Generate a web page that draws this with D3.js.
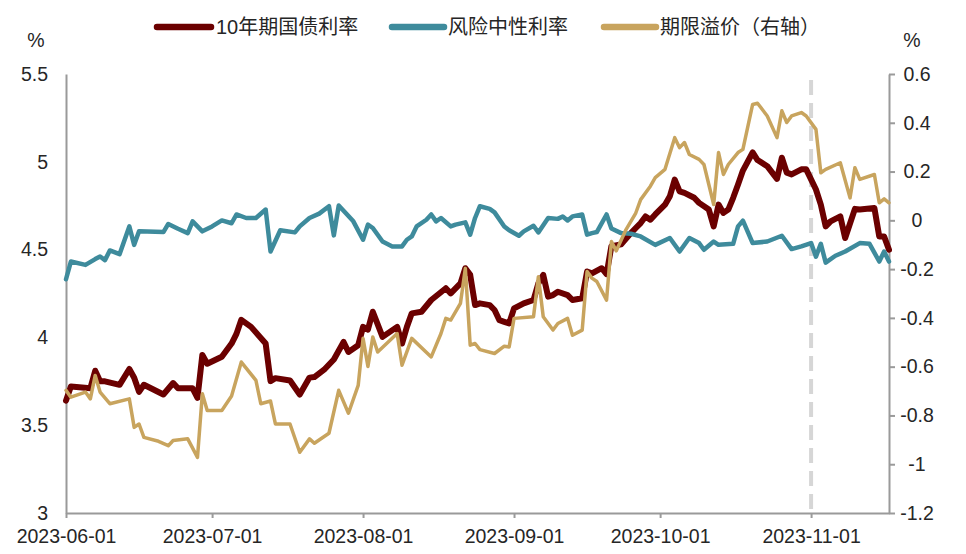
<!DOCTYPE html>
<html>
<head>
<meta charset="utf-8">
<script src="https://cdn.jsdelivr.net/npm/d3@7"></script>
<style>
  html, body { margin: 0; padding: 0; background: #fff; }
  svg { display: block; }
  text { font-family: "Liberation Sans", Arial, "Noto Sans CJK SC", sans-serif; fill: #262626; }
</style>
</head>
<body>
<svg id="chart" width="966" height="554"></svg>
<script>
// ---------- data ----------
const seriesNames = ["10年期国债利率", "风险中性利率", "期限溢价（右轴）"];
const xTickDates = ["2023-06-01", "2023-07-01", "2023-08-01", "2023-09-01", "2023-10-01", "2023-11-01"];
const leftTicks = [3, 3.5, 4, 4.5, 5, 5.5];
const rightTicks = [-1.2, -1, -0.8, -0.6, -0.4, -0.2, 0, 0.2, 0.4, 0.6];
const markerDate = "2023-11-01";

// 10年期国债利率 (left axis, %)
const yieldDates = ["06-01","06-02","06-06","06-07","06-08","06-09","06-12","06-14","06-15","06-16","06-17","06-21","06-23","06-24","06-27","06-28","06-29","06-30",
  "07-03","07-05","07-06","07-07","07-09","07-12","07-13","07-14","07-17","07-19","07-21","07-22","07-24","07-26","07-28","07-29","07-31",
  "08-01","08-02","08-03","08-05","08-08","08-09","08-10","08-11","08-13","08-15","08-18","08-19","08-21","08-22","08-23","08-24","08-25","08-27","08-28","08-29","08-30","08-31",
  "09-01","09-03","09-05","09-06","09-07","09-08","09-09","09-10","09-12","09-13","09-15","09-16","09-17","09-19","09-20","09-21","09-23","09-25","09-26","09-27","09-28","09-29","09-30",
  "10-02","10-03","10-04","10-05","10-06","10-08","10-09","10-11","10-12","10-13","10-14","10-15","10-16","10-17","10-18","10-20","10-21","10-23","10-25","10-26","10-27","10-28","10-30","10-31",
  "11-02","11-03","11-04","11-05","11-07","11-08","11-10","11-11","11-14","11-15","11-16","11-17"];
const yieldValues = [3.64,3.72,3.71,3.81,3.75,3.75,3.73,3.82,3.77,3.69,3.73,3.675,3.74,3.71,3.71,3.656,3.90,3.85,
  3.89,3.965,4.02,4.10,4.06,3.965,3.751,3.768,3.755,3.675,3.771,3.774,3.816,3.874,3.974,3.917,3.955,
  4.06,4.045,4.146,4.003,4.06,3.965,4.06,4.137,4.146,4.213,4.28,4.251,4.308,4.394,4.356,4.184,4.194,4.184,4.156,4.098,4.089,4.08,
  4.165,4.194,4.213,4.308,4.356,4.232,4.241,4.26,4.241,4.213,4.223,4.375,4.365,4.394,4.36,4.52,4.53,4.594,4.623,4.651,4.689,4.67,4.70,
  4.756,4.804,4.899,4.832,4.823,4.795,4.766,4.728,4.632,4.756,4.709,4.728,4.795,4.871,4.95,5.053,5.01,4.975,4.903,5.023,4.938,4.928,4.957,4.957,
  4.842,4.756,4.632,4.661,4.689,4.566,4.732,4.728,4.737,4.575,4.575,4.499];

// 风险中性利率 (left axis, %)
const neutralDates = ["06-01","06-02","06-05","06-07","06-08","06-09","06-10","06-12","06-14","06-15","06-16","06-21","06-22","06-24","06-26","06-27","06-29",
  "07-01","07-03","07-05","07-06","07-08","07-10","07-12","07-13","07-15","07-18","07-19","07-21","07-23","07-25","07-26","07-27","07-30",
  "08-01","08-02","08-03","08-05","08-07","08-09","08-10","08-11","08-12","08-14","08-15","08-16","08-17","08-19","08-20","08-22","08-23","08-24","08-25","08-27","08-28","08-30","08-31",
  "09-02","09-03","09-05","09-06","09-08","09-10","09-11","09-12","09-13","09-15","09-16","09-17","09-18","09-20","09-21","09-23","09-25","09-27","09-30",
  "10-03","10-05","10-07","10-09","10-10","10-12","10-13","10-16","10-17","10-18","10-20","10-23","10-26","10-28","10-30",
  "11-01","11-02","11-03","11-04","11-06","11-08","11-11","11-13","11-15","11-16","11-17"];
const neutralValues = [4.331,4.432,4.413,4.446,4.461,4.44,4.495,4.474,4.632,4.527,4.604,4.60,4.646,4.619,4.594,4.661,4.604,
  4.632,4.666,4.65,4.70,4.68,4.68,4.728,4.489,4.61,4.598,4.632,4.68,4.705,4.747,4.581,4.751,4.661,
  4.556,4.642,4.623,4.546,4.518,4.518,4.556,4.575,4.632,4.67,4.70,4.661,4.68,4.632,4.642,4.655,4.585,4.68,4.747,4.732,4.712,4.632,4.61,
  4.579,4.604,4.636,4.598,4.68,4.675,4.689,4.666,4.689,4.70,4.585,4.594,4.60,4.70,4.62,4.594,4.59,4.575,4.527,
  4.566,4.489,4.566,4.537,4.499,4.546,4.527,4.533,4.632,4.665,4.537,4.546,4.579,4.503,4.518,
  4.537,4.46,4.533,4.426,4.465,4.489,4.537,4.533,4.432,4.489,4.432];

// 期限溢价 (right axis, %)
const premiumDates = ["06-01","06-02","06-05","06-06","06-07","06-08","06-10","06-14","06-15","06-16","06-17","06-20","06-22","06-23","06-26","06-28","06-29","06-30",
  "07-03","07-05","07-07","07-10","07-11","07-13","07-14","07-17","07-19","07-21","07-22","07-25","07-27","07-29","07-31",
  "08-01","08-02","08-03","08-04","08-08","08-09","08-11","08-15","08-17","08-18","08-19","08-21","08-22","08-23","08-24","08-25","08-28","08-30","08-31",
  "09-01","09-05","09-06","09-07","09-09","09-10","09-12","09-13","09-15","09-16","09-17","09-18","09-20","09-21","09-22","09-24","09-26","09-27","09-29","09-30",
  "10-02","10-04","10-05","10-06","10-07","10-09","10-10","10-12","10-13","10-14","10-15","10-17","10-18","10-20","10-21","10-23","10-25","10-26","10-27","10-28","10-30","10-31",
  "11-02","11-03","11-04","11-07","11-09","11-10","11-11","11-14","11-15","11-16","11-17"];
const premiumValues = [-0.697,-0.725,-0.704,-0.732,-0.636,-0.704,-0.752,-0.732,-0.849,-0.835,-0.89,-0.906,-0.924,-0.903,-0.896,-0.972,-0.711,-0.78,
  -0.78,-0.72,-0.581,-0.656,-0.752,-0.741,-0.835,-0.835,-0.951,-0.896,-0.914,-0.873,-0.697,-0.791,-0.677,
  -0.484,-0.599,-0.478,-0.54,-0.464,-0.594,-0.484,-0.56,-0.464,-0.402,-0.409,-0.34,-0.197,-0.512,-0.505,-0.53,-0.546,-0.516,-0.519,
  -0.402,-0.395,-0.231,-0.395,-0.45,-0.423,-0.402,-0.471,-0.45,-0.21,-0.237,-0.251,-0.327,-0.087,-0.125,-0.038,0.03,0.085,0.14,0.175,
  0.209,0.339,0.298,0.319,0.27,0.25,0.229,0.065,0.278,0.188,0.229,0.278,0.291,0.475,0.48,0.428,0.339,0.449,0.401,0.428,0.442,0.428,
  0.373,0.195,0.209,0.236,0.092,0.216,0.168,0.188,0.072,0.088,0.072];

const colors = ["#6b0000", "#3e8b9c", "#c8a45e"];

// ---------- chart ----------
const parse = d3.timeParse("%Y-%m-%d");
const md = s => parse("2023-" + s);
const svg = d3.select("#chart");
svg.append("rect").attr("width", 966).attr("height", 554).attr("fill", "#fff");

const x = d3.scaleTime().domain([parse("2023-06-01"), parse("2023-11-17")]).range([66, 889]);
const yL = d3.scaleLinear().domain([3, 5.5]).range([513, 74]);
const yR = d3.scaleLinear().domain([-1.2, 0.6]).range([513, 74]);
const axisColor = "#9a9a9a";
const fs = "19.5px";

// dashed marker line
svg.append("line")
  .attr("x1", x(parse(markerDate))).attr("x2", x(parse(markerDate)))
  .attr("y1", 80).attr("y2", 511)
  .attr("stroke", "#d6d6d6").attr("stroke-width", 4).attr("stroke-dasharray", "15,8");

// left axis
const gL = svg.append("g").attr("transform", "translate(66,0)")
  .call(d3.axisLeft(yL).tickValues(leftTicks).tickSize(0).tickPadding(18).tickFormat(d => String(d)));
gL.select(".domain").attr("stroke", axisColor).attr("stroke-width", 2);
gL.selectAll("text").style("font-size", fs).attr("fill", "#262626");

// right axis
const gR = svg.append("g").attr("transform", "translate(889,0)")
  .call(d3.axisRight(yR).tickValues(rightTicks).tickSizeInner(6).tickSizeOuter(0).tickPadding(0).tickFormat(d => String(+d.toFixed(1))));
gR.select(".domain").attr("stroke", axisColor).attr("stroke-width", 2);
gR.selectAll(".tick line").attr("stroke", axisColor).attr("stroke-width", 2);
gR.selectAll("text").style("font-size", fs).attr("fill", "#262626")
  .attr("text-anchor", "middle").attr("x", 28);

// bottom axis
const gB = svg.append("g").attr("transform", "translate(0,513)")
  .call(d3.axisBottom(x).tickValues(xTickDates.map(parse)).tickSizeInner(5).tickSizeOuter(0).tickPadding(11).tickFormat(d3.timeFormat("%Y-%m-%d")));
gB.select(".domain").attr("stroke", axisColor).attr("stroke-width", 2);
gB.selectAll(".tick line").attr("stroke", axisColor).attr("stroke-width", 2);
gB.selectAll("text").style("font-size", fs).attr("fill", "#262626");

// unit labels
svg.append("text").attr("x", 36).attr("y", 40).attr("dy", "0.35em").attr("text-anchor", "middle").style("font-size", fs).text("%");
svg.append("text").attr("x", 912).attr("y", 40).attr("dy", "0.35em").attr("text-anchor", "middle").style("font-size", fs).text("%");

// lines
const series = [
  { dates: yieldDates, values: yieldValues, y: yL, color: colors[0], width: 6 },
  { dates: neutralDates, values: neutralValues, y: yL, color: colors[1], width: 4.5 },
  { dates: premiumDates, values: premiumValues, y: yR, color: colors[2], width: 3.5 }
];
series.forEach(s => {
  const pts = s.dates.map((d, i) => [md(d), s.values[i]]);
  const line = d3.line().x(p => x(p[0])).y(p => s.y(p[1]));
  svg.append("path").datum(pts)
    .attr("d", line)
    .attr("fill", "none")
    .attr("stroke", s.color)
    .attr("stroke-width", s.width)
    .attr("stroke-linejoin", "round")
    .attr("stroke-linecap", "round");
});

// legend
const legendItems = [
  { swatch: [157, 211], textX: 216 },
  { swatch: [392, 444], textX: 448 },
  { swatch: [604, 656], textX: 660 }
];
legendItems.forEach((it, i) => {
  svg.append("line").attr("x1", it.swatch[0]).attr("x2", it.swatch[1]).attr("y1", 27).attr("y2", 27)
    .attr("stroke", colors[i]).attr("stroke-width", 6.5).attr("stroke-linecap", "round");
  svg.append("text").attr("x", it.textX).attr("y", 27).attr("dy", "0.36em")
    .style("font-size", "20px").text(seriesNames[i]);
});
</script>
</body>
</html>
